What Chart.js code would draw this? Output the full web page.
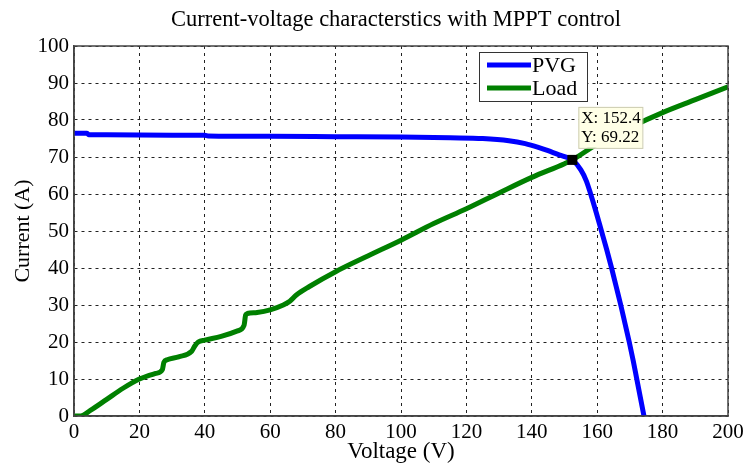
<!DOCTYPE html>
<html><head><meta charset="utf-8">
<script src="https://cdn.jsdelivr.net/npm/chart.js@4/dist/chart.umd.min.js"></script>
<style>html,body{margin:0;padding:0;background:#fff}#wrap{width:750px;height:468px}</style>
</head><body><div id="wrap"><canvas id="c" width="750" height="468"></canvas></div>
<script>
const titleText = "Current-voltage characterstics with MPPT control";
const xTitle = "Voltage (V)";
const yTitle = "Current (A)";
const seriesNames = ["PVG", "Load"];

const pvgV = [0, 4, 4.5, 10, 30, 40, 41, 60, 80, 100, 115, 125, 133, 138, 142, 145, 148, 150, 152.4, 155, 156.7, 158.0, 159.7, 161.3, 162.9, 164.4, 165.8, 167.2, 168.5, 169.8, 171.0, 172.1, 173.2, 174.3];
const pvgI = [76.4, 76.4, 76.0, 76.0, 75.9, 75.9, 75.7, 75.6, 75.5, 75.4, 75.2, 75.0, 74.4, 73.6, 72.6, 71.7, 70.7, 70.1, 69.22, 66.5, 63.5, 60, 55, 50, 45, 40, 35, 30, 25, 20, 15, 10, 5, 0];

const loadV = [0, 2, 5, 10, 15, 20, 25, 27, 27.5, 28.5, 32, 36, 37, 38, 40, 45, 50, 52, 52.5, 53, 56, 60, 64, 66, 68, 72, 80, 90, 100, 110, 120, 130, 140, 150, 152.4, 160, 170, 180, 190, 200];
const loadI = [0, 0, 1.5, 4.5, 7.5, 10, 11.5, 12.5, 14.5, 15.2, 16, 17.5, 19, 20, 20.5, 21.5, 23, 24.5, 27.3, 27.7, 28, 28.7, 30, 31, 32.7, 35, 39, 43.3, 47.5, 52, 56, 60.3, 64.5, 68.2, 69.22, 73.5, 78, 82, 85.5, 89];

const tipX = 152.4;
const tipY = 69.22;

const serif = "'Liberation Serif', 'Times New Roman', serif";

const toPts = (xs, ys) => xs.map((x, i) => ({x: x, y: ys[i]}));

const decor = {
  id: 'decor',
  afterDatasetsDraw(chart) {
    const ctx = chart.ctx, a = chart.chartArea;
    const xs = chart.scales.x, ys = chart.scales.y;
    ctx.save();
    ctx.setLineDash([]);
    ctx.strokeStyle = '#444';
    ctx.lineWidth = 1.5;
    ctx.strokeRect(a.left, a.top, a.right - a.left, a.bottom - a.top);
    ctx.fillStyle = '#000';
    ctx.font = "22.5px " + serif;
    ctx.textAlign = 'center';
    ctx.textBaseline = 'middle';
    ctx.fillText(titleText, 396, 20);
    const lx = 479, ly = 52, lw = 108, lh = 49;
    ctx.fillStyle = '#fff';
    ctx.fillRect(lx, ly, lw, lh);
    ctx.strokeStyle = '#333';
    ctx.lineWidth = 1;
    ctx.strokeRect(lx + 0.5, ly + 0.5, lw, lh);
    const cols = ['#0000ff', '#008000'];
    for (let i = 0; i < 2; i++) {
      const yy = ly + 13 + i * 23;
      ctx.strokeStyle = cols[i];
      ctx.lineWidth = 5;
      ctx.beginPath();
      ctx.moveTo(lx + 8, yy);
      ctx.lineTo(lx + 52, yy);
      ctx.stroke();
      ctx.fillStyle = '#000';
      ctx.font = "22px " + serif;
      ctx.textAlign = 'left';
      ctx.fillText(seriesNames[i], lx + 53, yy + 1);
    }
    const px = xs.getPixelForValue(tipX), py = ys.getPixelForValue(tipY);
    const bx = px + 6, by = py - 53, bw = 64, bh = 41;
    ctx.fillStyle = '#ffffe6';
    ctx.fillRect(bx, by, bw, bh);
    ctx.strokeStyle = '#ccccb0';
    ctx.lineWidth = 1;
    ctx.strokeRect(bx + 0.5, by + 0.5, bw, bh);
    ctx.fillStyle = '#000';
    ctx.font = "17px " + serif;
    ctx.textAlign = 'left';
    ctx.fillText("X: " + tipX, bx + 3, by + 12);
    ctx.fillText("Y: " + tipY, bx + 3, by + 31);
    ctx.fillRect(px - 5, py - 5, 10, 10);
    ctx.restore();
  }
};

new Chart(document.getElementById('c'), {
  type: 'scatter',
  data: {
    datasets: [
      {label: seriesNames[0], data: toPts(pvgV, pvgI), showLine: true, borderColor: '#0000ff', backgroundColor: '#0000ff', borderWidth: 5, pointRadius: 0, cubicInterpolationMode: 'monotone'},
      {label: seriesNames[1], data: toPts(loadV, loadI), showLine: true, borderColor: '#008000', backgroundColor: '#008000', borderWidth: 5, pointRadius: 0, cubicInterpolationMode: 'monotone'}
    ]
  },
  options: {
    responsive: false,
    animation: false,
    devicePixelRatio: 1,
    layout: {padding: {left: 0, right: 22, top: 46, bottom: 0}},
    plugins: {legend: {display: false}, tooltip: {enabled: false}, title: {display: false}},
    scales: {
      x: {
        type: 'linear', min: 0, max: 200,
        ticks: {stepSize: 20, color: '#000', font: {family: serif, size: 21}, padding: 4, maxRotation: 0},
        grid: {color: '#222', lineWidth: 1, drawTicks: false},
        border: {dash: [3, 4], color: '#444', width: 1.5},
        title: {display: true, text: xTitle, color: '#000', font: {family: serif, size: 23}, padding: {top: 0, bottom: 2}},
        afterFit(s) { s.height = 52; }
      },
      y: {
        type: 'linear', min: 0, max: 100,
        ticks: {stepSize: 10, color: '#000', font: {family: serif, size: 21}, padding: 5},
        grid: {color: '#222', lineWidth: 1, drawTicks: false},
        border: {dash: [3, 4], color: '#444', width: 1.5},
        title: {display: true, text: yTitle, color: '#000', font: {family: serif, size: 22}, padding: {top: 10, bottom: 2}},
        afterFit(s) { s.width = 74; }
      }
    }
  },
  plugins: [decor]
});
</script>
</body></html>
